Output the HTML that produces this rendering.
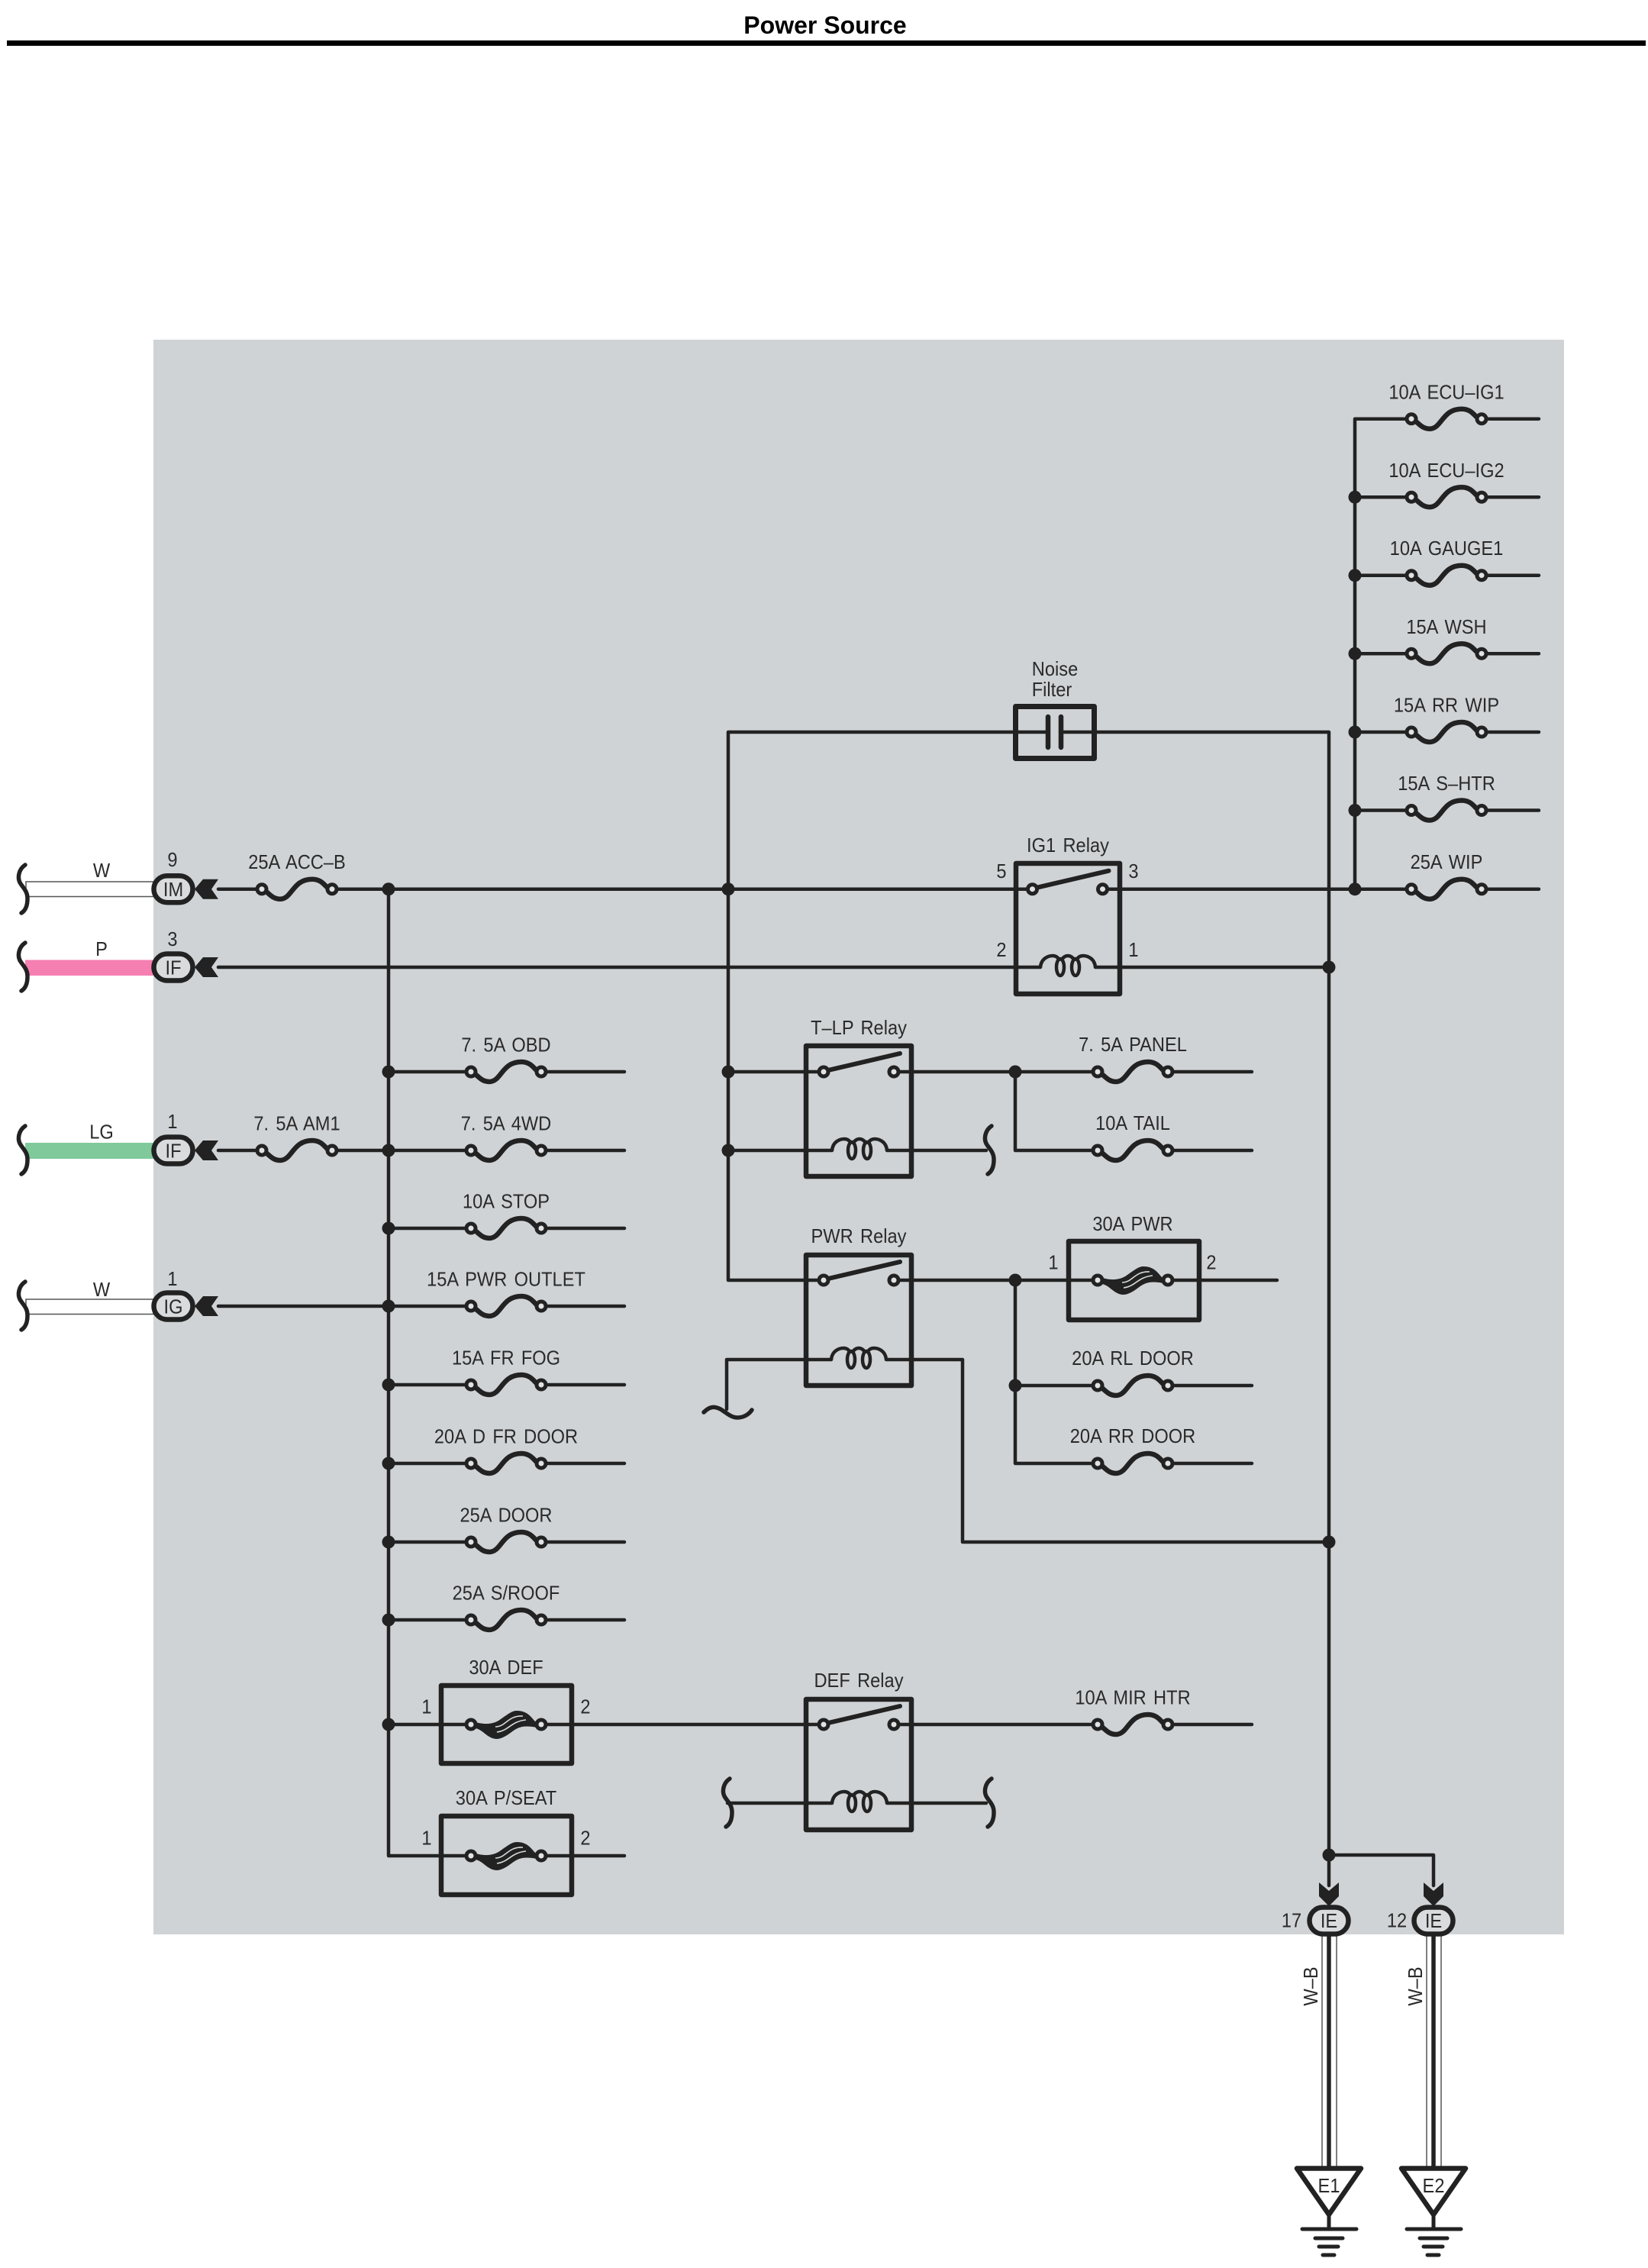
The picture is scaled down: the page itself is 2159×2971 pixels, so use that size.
<!DOCTYPE html>
<html><head><meta charset="utf-8"><title>Power Source</title>
<style>
html,body{margin:0;padding:0;background:#fff}
svg{display:block}
text{font-family:"Liberation Sans",Arial,sans-serif;font-size:26px;fill:#2a2a2a;text-anchor:middle;word-spacing:3px}
.w{fill:none;stroke:#222;stroke-width:4.5;stroke-linecap:round;stroke-linejoin:round}
.b{fill:none;stroke:#222;stroke-width:6.5;stroke-linejoin:round}
</style></head><body>
<svg width="2159" height="2971" viewBox="0 0 2159 2971" xmlns="http://www.w3.org/2000/svg">
<defs>
<g id="f"><path d="M-42 2C-36 6-32 13-22 13C-6 13-6-13 20-13C32-13 36-5 42 0" fill="none" stroke="#222" stroke-width="6.5" stroke-linecap="round"/><circle cx="-46" r="6" fill="#e0e2e4" stroke="#222" stroke-width="5"/><circle cx="46" r="6" fill="#e0e2e4" stroke="#222" stroke-width="5"/></g>
<g id="F"><path d="M-40-3C-25 1-15 -1-7-7C3-14 8-18 14-18C30-18 34-7 41-1L41 4C25 1 17 2 7 10C-1 16-7 19-13 19C-25 18-30 7-40 5Z" fill="#222"/><path d="M-14 3C0 3 2-12 22-11M-12 10C4 8 6-4 26-6" fill="none" stroke="#d8dadc" stroke-width="1.6"/><circle cx="-46" r="6" fill="#e0e2e4" stroke="#222" stroke-width="5"/><circle cx="46" r="6" fill="#e0e2e4" stroke="#222" stroke-width="5"/></g>
<g id="s"><path d="M-40-2L54-24" stroke="#222" stroke-width="6" stroke-linecap="round" fill="none"/><circle cx="-46" r="6" fill="#e0e2e4" stroke="#222" stroke-width="5"/><circle cx="46" r="6" fill="#e0e2e4" stroke="#222" stroke-width="5"/></g>
<g id="c"><path d="M-36 0C-35-12-25-15-20-15C-15-15-12-12-11-8M-9-8C-7-13-3-15 0-15C3-15 7-13 9-8M11-8C12-12 15-15 20-15C25-15 35-12 36 0" fill="none" stroke="#222" stroke-width="4.5"/><ellipse cx="-10" rx="5" ry="11" fill="none" stroke="#222" stroke-width="4.500"/><ellipse cx="10" rx="5" ry="11" fill="none" stroke="#222" stroke-width="4.500"/></g>
<path id="k" d="M3-32C-6-26-7-15-4-9C0-2 6 2 6 12C6 22 3 28-2 31" fill="none" stroke="#222" stroke-width="5.5" stroke-linecap="round"/>
<circle id="d" r="8.5" fill="#222"/>
<g id="cl"><rect x="-25.500" y="-17.500" width="51" height="35" rx="17.500" fill="#d9dbdd" stroke="#222" stroke-width="6.500"/><path d="M28 0L39-13H59L50 0L59 13H39Z" fill="#222"/></g>
<g id="cd"><rect x="-25.500" y="-17.500" width="51" height="35" rx="17.500" fill="#d9dbdd" stroke="#222" stroke-width="6.500"/><path d="M0-19L-13-32V-50L0-39L13-50V-32Z" fill="#222"/></g>
<g id="gd"><path d="M-42 2.500H42L0 63Z" fill="#fff" stroke="#222" stroke-width="6.500" stroke-linejoin="round"/><path d="M0 65V82M-35 82H36" fill="none" stroke="#222" stroke-width="5" stroke-linecap="round"/><path d="M-18 94H18M-13 105H12M-8 116H7" fill="none" stroke="#222" stroke-width="5" stroke-linecap="round"/></g>
</defs>
<rect width="2159" height="2971" fill="#fff"/>
<text transform="translate(1081,44)" style="font-size:32px;font-weight:bold;fill:#000;word-spacing:0">Power Source</text>
<rect x="9" y="53" width="2147" height="7" fill="#000"/>
<rect x="201" y="445" width="1848" height="2089" fill="#d0d3d6"/>

<!-- external wires -->
<rect x="34" y="1155" width="167" height="19.500" fill="#fff" stroke="#555" stroke-width="1.500"/>
<rect x="34" y="1702" width="167" height="19.500" fill="#fff" stroke="#555" stroke-width="1.500"/>
<rect x="33" y="1257.500" width="168" height="20.500" fill="#f57fb0"/>
<rect x="33" y="1497" width="168" height="21" fill="#7fc99b"/>
<use href="#k" x="30" y="1165"/><use href="#k" x="30" y="1267"/><use href="#k" x="30" y="1507"/><use href="#k" x="30" y="1711"/>

<!-- ground wires -->
<rect x="1732" y="2534" width="19" height="306" fill="#fff" stroke="#555" stroke-width="1.500"/>
<rect x="1869" y="2534" width="19" height="306" fill="#fff" stroke="#555" stroke-width="1.500"/>
<path class="w" d="M1741 2530V2840M1878 2530V2840" style="stroke-width:5.500"/>

<!-- wiring -->
<path class="w" d="M286 1164.700H343M435 1164.700H1353M1444 1164.700H1849M1941 1164.700H2016
M286 1267H1363M1435 1267H1741
M286 1507H343M435 1507H617M709 1507H818
M286 1711H617M709 1711H818
M509 1164.700V2431H617M709 2431H818
M509 1404H617M709 1404H818
M509 1609H617M709 1609H818
M509 1814H617M709 1814H818
M509 1917H617M709 1917H818
M509 2020H617M709 2020H818
M509 2122H617M709 2122H818
M509 2259H617M709 2259H1079M1171 2259H1438M1530 2259H1640
M954 959V1677H1079M1171 1677H1438M1530 1677H1673
M954 959H1373M1390 959H1741V2470
M954 1404H1079M1171 1404H1438M1530 1404H1640
M954 1507H1090M1162 1507H1292M1330 1404V1507H1438M1530 1507H1640
M1330 1677V1917H1438M1530 1917H1640M1330 1815H1438M1530 1815H1640
M952 1846V1781H1089M1161 1781H1261V2020H1741
M953 2362H1090M1162 2362H1292
M1741 2430H1878V2470
M1775 548.700V1164.700
M1775 548.700H1849M1941 548.700H2016
M1775 651.200H1849M1941 651.200H2016
M1775 753.700H1849M1941 753.700H2016
M1775 856.200H1849M1941 856.200H2016
M1775 959H1849M1941 959H2016
M1775 1061.500H1849M1941 1061.500H2016"/>
<path d="M922 1850C930 1842 936 1842 944 1846C952 1851 958 1857 966 1857C974 1857 981 1853 985 1847" fill="none" stroke="#222" stroke-width="5.500" stroke-linecap="round"/>

<!-- boxes -->
<rect class="b" x="1331" y="1131" width="136" height="171"/>
<rect class="b" x="1056" y="1370" width="138" height="171"/>
<rect class="b" x="1056" y="1644" width="138" height="171"/>
<rect class="b" x="1056" y="2226" width="138" height="171"/>
<rect class="b" x="1400" y="1626" width="171" height="103"/>
<rect class="b" x="578" y="2208" width="171" height="102"/>
<rect class="b" x="578" y="2379" width="171" height="103"/>
<rect class="b" x="1330.500" y="925.500" width="103" height="68" style="stroke-width:7"/>
<path d="M1373 939V979M1390 939V979" stroke="#222" stroke-width="6.500" stroke-linecap="round" fill="none"/>

<!-- relay contents -->
<use href="#s" x="1398.500" y="1164.700"/><use href="#c" x="1399" y="1267"/>
<use href="#s" x="1125" y="1404"/><use href="#c" x="1126" y="1507"/>
<use href="#s" x="1125" y="1677"/><use href="#c" x="1125" y="1781"/>
<use href="#s" x="1125" y="2259"/><use href="#c" x="1126" y="2362"/>

<!-- breaks -->
<use href="#k" x="1296" y="1507"/><use href="#k" x="1296" y="2362"/><use href="#k" x="953" y="2362"/>

<!-- fuses -->
<use href="#f" x="389" y="1164.700"/><use href="#f" x="389" y="1507"/>
<use href="#f" x="663" y="1404"/><use href="#f" x="663" y="1507"/><use href="#f" x="663" y="1609"/><use href="#f" x="663" y="1711"/><use href="#f" x="663" y="1814"/><use href="#f" x="663" y="1917"/><use href="#f" x="663" y="2020"/><use href="#f" x="663" y="2122"/>
<use href="#F" x="663" y="2259"/><use href="#F" x="663" y="2431"/><use href="#F" x="1484" y="1677"/>
<use href="#f" x="1484" y="1404"/><use href="#f" x="1484" y="1507"/><use href="#f" x="1484" y="1815"/><use href="#f" x="1484" y="1917"/><use href="#f" x="1484" y="2259"/>
<use href="#f" x="1895" y="548.700"/><use href="#f" x="1895" y="651.200"/><use href="#f" x="1895" y="753.700"/><use href="#f" x="1895" y="856.200"/><use href="#f" x="1895" y="959"/><use href="#f" x="1895" y="1061.500"/><use href="#f" x="1895" y="1164.700"/>

<!-- dots -->
<use href="#d" x="509" y="1164.700"/><use href="#d" x="509" y="1404"/><use href="#d" x="509" y="1507"/><use href="#d" x="509" y="1609"/><use href="#d" x="509" y="1711"/><use href="#d" x="509" y="1814"/><use href="#d" x="509" y="1917"/><use href="#d" x="509" y="2020"/><use href="#d" x="509" y="2122"/><use href="#d" x="509" y="2259"/>
<use href="#d" x="954" y="1164.700"/><use href="#d" x="954" y="1404"/><use href="#d" x="954" y="1507"/>
<use href="#d" x="1330" y="1404"/><use href="#d" x="1330" y="1677"/><use href="#d" x="1330" y="1815"/>
<use href="#d" x="1741" y="1267"/><use href="#d" x="1741" y="2020"/><use href="#d" x="1741" y="2430"/>
<use href="#d" x="1775" y="651.200"/><use href="#d" x="1775" y="753.700"/><use href="#d" x="1775" y="856.200"/><use href="#d" x="1775" y="959"/><use href="#d" x="1775" y="1061.500"/><use href="#d" x="1775" y="1164.700"/>

<!-- connectors -->
<use href="#cl" x="227" y="1164.700"/><use href="#cl" x="227" y="1267"/><use href="#cl" x="227" y="1507"/><use href="#cl" x="227" y="1711"/>
<use href="#cd" x="1741" y="2516"/><use href="#cd" x="1878" y="2516"/>
<use href="#gd" x="1741" y="2838"/><use href="#gd" x="1878" y="2838"/>

<!-- connector labels -->
<text transform="translate(227,1174) scale(.91,1)">IM</text>
<text transform="translate(227,1276.500) scale(.91,1)">IF</text>
<text transform="translate(227,1516.500) scale(.91,1)">IF</text>
<text transform="translate(227,1720.500) scale(.91,1)">IG</text>
<text transform="translate(226,1135) scale(.91,1)">9</text>
<text transform="translate(226,1239) scale(.91,1)">3</text>
<text transform="translate(226,1478) scale(.91,1)">1</text>
<text transform="translate(226,1684) scale(.91,1)">1</text>
<text transform="translate(133,1149) scale(.91,1)">W</text>
<text transform="translate(133,1252) scale(.91,1)">P</text>
<text transform="translate(133,1491.500) scale(.91,1)">LG</text>
<text transform="translate(133,1698) scale(.91,1)">W</text>
<text transform="translate(1741,2525) scale(.91,1)">IE</text>
<text transform="translate(1878,2525) scale(.91,1)">IE</text>
<text transform="translate(1692,2524.500) scale(.91,1)">17</text>
<text transform="translate(1830,2524.500) scale(.91,1)">12</text>
<text transform="translate(1726,2602) rotate(-90) scale(.91,1)">W–B</text>
<text transform="translate(1863,2602) rotate(-90) scale(.91,1)">W–B</text>
<text transform="translate(1741,2872) scale(.91,1)">E1</text>
<text transform="translate(1878,2872) scale(.91,1)">E2</text>

<!-- fuse labels -->
<text transform="translate(389,1138) scale(.91,1)">25A ACC–B</text>
<text transform="translate(389,1480.500) scale(.91,1)">7. 5A AM1</text>
<text transform="translate(663,1377.500) scale(.91,1)">7. 5A OBD</text>
<text transform="translate(663,1480.500) scale(.91,1)">7. 5A 4WD</text>
<text transform="translate(663,1582.500) scale(.91,1)">10A STOP</text>
<text transform="translate(663,1684.500) scale(.91,1)">15A PWR OUTLET</text>
<text transform="translate(663,1787.500) scale(.91,1)">15A FR FOG</text>
<text transform="translate(663,1890.500) scale(.91,1)">20A D FR DOOR</text>
<text transform="translate(663,1993.500) scale(.91,1)">25A DOOR</text>
<text transform="translate(663,2095.500) scale(.91,1)">25A S/ROOF</text>
<text transform="translate(663,2193) scale(.91,1)">30A DEF</text>
<text transform="translate(663,2364) scale(.91,1)">30A P/SEAT</text>
<text transform="translate(559,2244.500) scale(.91,1)">1</text>
<text transform="translate(767,2244.500) scale(.91,1)">2</text>
<text transform="translate(559,2416.500) scale(.91,1)">1</text>
<text transform="translate(767,2416.500) scale(.91,1)">2</text>
<text transform="translate(1484,1377) scale(.91,1)">7. 5A PANEL</text>
<text transform="translate(1484,1480) scale(.91,1)">10A TAIL</text>
<text transform="translate(1484,1612) scale(.91,1)">30A PWR</text>
<text transform="translate(1380,1662.500) scale(.91,1)">1</text>
<text transform="translate(1587,1662.500) scale(.91,1)">2</text>
<text transform="translate(1484,1788) scale(.91,1)">20A RL DOOR</text>
<text transform="translate(1484,1890) scale(.91,1)">20A RR DOOR</text>
<text transform="translate(1484,2232.500) scale(.91,1)">10A MIR HTR</text>
<text transform="translate(1895,522.500) scale(.91,1)">10A ECU–IG1</text>
<text transform="translate(1895,625) scale(.91,1)">10A ECU–IG2</text>
<text transform="translate(1895,727) scale(.91,1)">10A GAUGE1</text>
<text transform="translate(1895,830) scale(.91,1)">15A WSH</text>
<text transform="translate(1895,932.500) scale(.91,1)">15A RR WIP</text>
<text transform="translate(1895,1035) scale(.91,1)">15A S–HTR</text>
<text transform="translate(1895,1138) scale(.91,1)">25A WIP</text>

<!-- relay labels -->
<text transform="translate(1399,1116) scale(.91,1)">IG1 Relay</text>
<text transform="translate(1312,1150) scale(.91,1)">5</text>
<text transform="translate(1485,1150) scale(.91,1)">3</text>
<text transform="translate(1312,1253) scale(.91,1)">2</text>
<text transform="translate(1485,1253) scale(.91,1)">1</text>
<text transform="translate(1125,1355) scale(.91,1)">T–LP Relay</text>
<text transform="translate(1125,1628) scale(.91,1)">PWR Relay</text>
<text transform="translate(1125,2210) scale(.91,1)">DEF Relay</text>
<text transform="translate(1382,885) scale(.91,1)">Noise</text>
<text transform="translate(1378,912) scale(.91,1)">Filter</text>
</svg>
</body></html>
